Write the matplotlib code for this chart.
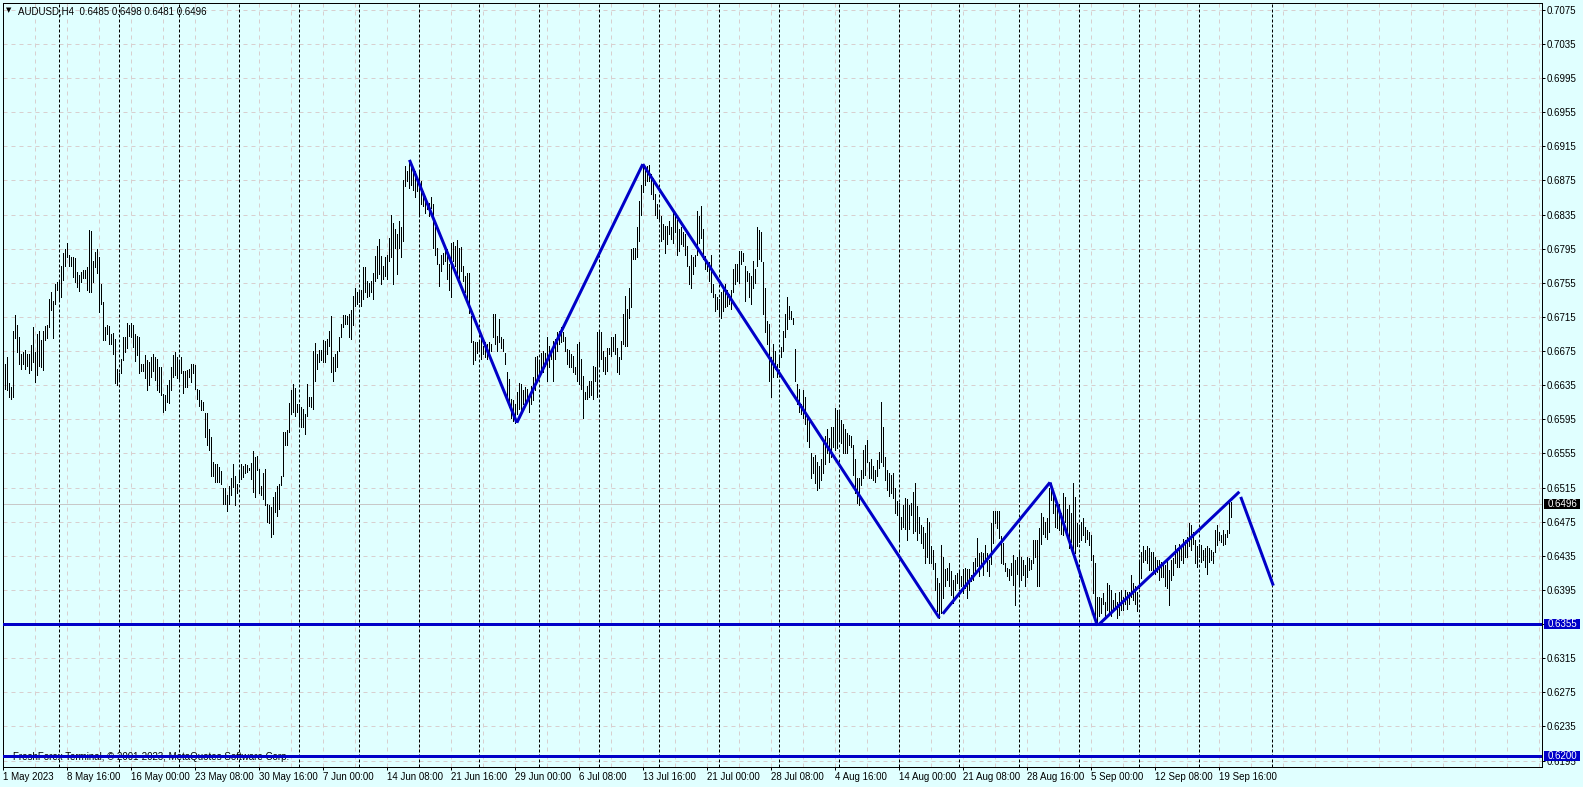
import numpy as np
import matplotlib
matplotlib.use("Agg")
import matplotlib.pyplot as plt
from matplotlib import transforms
from matplotlib.patches import Rectangle

plt.rcParams['font.family'] = ['Liberation Sans', 'DejaVu Sans']

# AUDUSD H4, one bar per 4 hours (values in 1/10000)
highs = [
    6643, 6660, 6668, 6637, 6633, 6698, 6717, 6705, 6692, 6672,
    6674, 6676, 6671, 6671, 6682, 6703, 6674, 6695, 6698, 6688,
    6699, 6704, 6705, 6736, 6744, 6734, 6754, 6756, 6756, 6775,
    6790, 6795, 6802, 6788, 6785, 6785, 6784, 6768, 6764, 6768,
    6770, 6770, 6773, 6817, 6816, 6781, 6791, 6795, 6785, 6754,
    6732, 6703, 6705, 6704, 6695, 6696, 6689, 6654, 6649, 6666,
    6692, 6692, 6708, 6705, 6708, 6705, 6695, 6693, 6691, 6660,
    6660, 6670, 6664, 6662, 6668, 6672, 6668, 6666, 6656, 6656,
    6625, 6623, 6635, 6641, 6656, 6670, 6674, 6668, 6665, 6668,
    6651, 6651, 6653, 6654, 6660, 6660, 6659, 6631, 6629, 6618,
    6615, 6602, 6602, 6584,
    6574, 6545, 6543, 6543, 6539, 6534, 6515, 6515, 6506, 6517,
    6526, 6543, 6529, 6519, 6533, 6543, 6540, 6543, 6541, 6538,
    6544, 6558, 6551, 6552, 6537, 6517, 6532, 6537, 6496, 6494,
    6492, 6504, 6510, 6517, 6519, 6529, 6580, 6580, 6582, 6614,
    6629, 6636, 6632, 6613, 6613, 6609, 6607, 6601, 6636, 6621,
    6621, 6675, 6684, 6671, 6676, 6676, 6688, 6687, 6689, 6699,
    6716, 6668, 6671, 6675, 6691, 6707, 6717, 6717, 6716, 6718,
    6723, 6740, 6749, 6744, 6746, 6746, 6773, 6773, 6757, 6755,
    6757, 6767, 6786, 6798, 6806, 6786, 6775, 6785, 6788, 6807,
    6835, 6825, 6818, 6812, 6827, 6820, 6876, 6892, 6886, 6898,
    6896, 6890, 6886, 6878, 6886, 6874, 6863, 6857, 6851, 6849,
    6855, 6847, 6820, 6796, 6777, 6788, 6790, 6796, 6794, 6777,
    6802, 6803, 6798, 6805, 6796, 6797, 6775, 6763, 6767, 6766,
    6716, 6687, 6685, 6685, 6687, 6689, 6681, 6685, 6683, 6685,
    6683, 6718, 6718, 6693, 6712, 6691, 6689, 6673, 6650, 6642,
    6619, 6617, 6613, 6627, 6638, 6636, 6629, 6633, 6630, 6621,
    6634, 6644, 6668, 6669, 6664, 6673, 6675, 6673, 6691, 6681,
    6677, 6687, 6689, 6697, 6699, 6703, 6697, 6691, 6677, 6676,
    6671, 6669, 6656, 6683, 6685, 6666, 6646, 6627, 6634, 6640,
    6640, 6658, 6656, 6697, 6699, 6697, 6675, 6668, 6679, 6679,
    6691, 6691, 6695, 6679, 6668, 6687, 6718, 6740, 6724, 6749,
    6794, 6796, 6796, 6820, 6851, 6870, 6893, 6890, 6892, 6893,
    6882, 6878, 6859, 6847, 6839, 6833, 6824, 6822, 6822, 6827,
    6820, 6837, 6835, 6829, 6818, 6820, 6814, 6812, 6798, 6775,
    6788, 6785, 6788, 6839, 6833, 6845, 6818, 6786, 6781, 6779,
    6788, 6753, 6742, 6738, 6736, 6744, 6746, 6753, 6746, 6742,
    6746, 6771, 6777, 6777, 6792, 6792, 6790, 6775, 6769, 6767,
    6763, 6781, 6771, 6820, 6817, 6814, 6779, 6749, 6710, 6707,
    6668, 6683, 6675, 6660, 6669, 6680, 6699, 6718, 6738, 6728,
    6722, 6714, 6677, 6636, 6630, 6613, 6629, 6621, 6597, 6593,
    6555, 6551, 6553, 6545, 6540, 6549, 6571, 6575, 6583, 6573,
    6586, 6586, 6608, 6606, 6606, 6594, 6590, 6583, 6579, 6577,
    6575, 6565, 6549, 6526, 6526, 6536, 6559, 6565, 6571, 6545,
    6549, 6540, 6536, 6547, 6557, 6615, 6586, 6551, 6536, 6532,
    6530, 6532, 6514, 6499, 6497, 6481, 6495, 6503, 6501, 6495,
    6497, 6510, 6520, 6493, 6481, 6471, 6469, 6462, 6479, 6475,
    6446, 6442, 6427, 6409, 6403, 6448, 6434, 6419, 6421, 6427,
    6417, 6407, 6413, 6415, 6417, 6411, 6419, 6421, 6419, 6419,
    6413, 6428, 6432, 6456, 6438, 6440, 6438, 6448, 6438, 6430,
    6473, 6487, 6487, 6487, 6487, 6458, 6450, 6427, 6421, 6419,
    6426, 6436, 6430, 6434, 6440, 6434, 6430, 6424, 6434, 6432,
    6430, 6453, 6453, 6453, 6467, 6485, 6481, 6475, 6479, 6514,
    6520, 6508, 6496, 6490, 6496, 6485, 6508, 6504, 6490, 6494,
    6485, 6520, 6504, 6473, 6469, 6475, 6479, 6469, 6465, 6463,
    6459, 6436, 6426, 6387, 6387, 6385, 6391, 6381, 6403, 6401,
    6395, 6383, 6391, 6381, 6393, 6395, 6387, 6395, 6393, 6393,
    6412, 6403, 6399, 6393, 6430, 6440, 6446, 6442, 6446, 6444,
    6440, 6440, 6434, 6430, 6430, 6428, 6426, 6424, 6430, 6418,
    6430, 6432, 6448, 6444, 6449, 6446, 6455, 6453, 6457, 6473,
    6471, 6463, 6453, 6446, 6449, 6448, 6442, 6444, 6446, 6444,
    6442, 6440, 6465, 6471, 6463, 6459, 6465, 6461, 6465, 6497,
    6498,
]
lows = [
    6632, 6631, 6629, 6621, 6619, 6621, 6690, 6674, 6660, 6654,
    6660, 6654, 6658, 6649, 6653, 6662, 6639, 6647, 6657, 6656,
    6653, 6688, 6690, 6703, 6723, 6690, 6730, 6746, 6736, 6738,
    6758, 6775, 6785, 6775, 6775, 6762, 6756, 6750, 6745, 6756,
    6760, 6760, 6747, 6744, 6744, 6756, 6773, 6766, 6721, 6730,
    6688, 6688, 6695, 6683, 6683, 6672, 6638, 6635, 6641, 6649,
    6664, 6674, 6678, 6693, 6691, 6680, 6663, 6670, 6649, 6651,
    6651, 6643, 6629, 6635, 6645, 6652, 6641, 6629, 6627, 6623,
    6604, 6606, 6615, 6614, 6629, 6645, 6647, 6643, 6641, 6649,
    6626, 6633, 6633, 6645, 6639, 6649, 6631, 6619, 6610, 6606,
    6606, 6574, 6565, 6559,
    6529, 6528, 6521, 6521, 6521, 6519, 6496, 6496, 6488, 6496,
    6506, 6516, 6494, 6508, 6521, 6525, 6527, 6532, 6533, 6536,
    6525, 6510, 6504, 6535, 6508, 6506, 6502, 6495, 6474, 6473,
    6457, 6461, 6486, 6482, 6490, 6518, 6529, 6565, 6565, 6580,
    6601, 6603, 6599, 6603, 6588, 6586, 6586, 6578, 6599, 6611,
    6609, 6607, 6640, 6654, 6662, 6664, 6662, 6662, 6671, 6681,
    6650, 6640, 6652, 6656, 6675, 6691, 6703, 6707, 6707, 6691,
    6689, 6705, 6728, 6730, 6732, 6728, 6736, 6744, 6738, 6740,
    6744, 6736, 6757, 6761, 6765, 6753, 6759, 6763, 6759, 6781,
    6785, 6753, 6796, 6765, 6796, 6785, 6804, 6868, 6874, 6866,
    6870, 6864, 6855, 6863, 6833, 6847, 6845, 6837, 6841, 6833,
    6843, 6796, 6788, 6777, 6751, 6769, 6777, 6781, 6759, 6746,
    6738, 6781, 6775, 6765, 6761, 6769, 6757, 6744, 6732, 6720,
    6685, 6660, 6664, 6673, 6675, 6666, 6671, 6668, 6666, 6671,
    6675, 6691, 6683, 6675, 6685, 6679, 6675, 6660, 6621, 6609,
    6597, 6593, 6591, 6601, 6607, 6605, 6613, 6613, 6617, 6603,
    6613, 6617, 6629, 6640, 6644, 6652, 6650, 6658, 6640, 6656,
    6666, 6640, 6666, 6675, 6683, 6685, 6687, 6675, 6660, 6656,
    6656, 6650, 6648, 6640, 6636, 6630, 6597, 6619, 6619, 6621,
    6623, 6619, 6640, 6621, 6660, 6666, 6652, 6648, 6652, 6671,
    6669, 6675, 6671, 6650, 6648, 6666, 6683, 6681, 6681, 6714,
    6726, 6783, 6783, 6785, 6804, 6835, 6861, 6870, 6874, 6874,
    6859, 6853, 6835, 6831, 6827, 6804, 6806, 6790, 6800, 6812,
    6806, 6802, 6814, 6788, 6792, 6800, 6798, 6788, 6775, 6753,
    6749, 6765, 6775, 6788, 6802, 6808, 6783, 6771, 6769, 6757,
    6744, 6738, 6722, 6724, 6718, 6714, 6722, 6726, 6728, 6730,
    6724, 6744, 6753, 6757, 6755, 6777, 6781, 6734, 6757, 6738,
    6730, 6749, 6755, 6775, 6783, 6781, 6718, 6697, 6683, 6640,
    6621, 6644, 6654, 6644, 6656, 6668, 6675, 6691, 6701, 6712,
    6712, 6707, 6640, 6613, 6603, 6601, 6597, 6590, 6570, 6562,
    6526, 6532, 6520, 6512, 6514, 6524, 6532, 6542, 6555, 6545,
    6551, 6563, 6559, 6561, 6571, 6567, 6555, 6555, 6555, 6565,
    6563, 6530, 6508, 6497, 6495, 6518, 6526, 6530, 6545, 6526,
    6526, 6524, 6522, 6528, 6538, 6545, 6540, 6524, 6512, 6505,
    6508, 6503, 6485, 6483, 6454, 6466, 6469, 6466, 6454, 6466,
    6483, 6462, 6464, 6454, 6462, 6450, 6444, 6427, 6434, 6427,
    6427, 6419, 6395, 6370, 6362, 6368, 6386, 6399, 6407, 6399,
    6389, 6380, 6395, 6403, 6397, 6399, 6391, 6397, 6386, 6395,
    6405, 6407, 6417, 6423, 6411, 6423, 6413, 6428, 6417, 6411,
    6425, 6450, 6473, 6467, 6456, 6427, 6425, 6417, 6411, 6407,
    6412, 6401, 6377, 6414, 6399, 6407, 6412, 6399, 6410, 6418,
    6420, 6426, 6434, 6399, 6399, 6449, 6461, 6457, 6455, 6463,
    6500, 6485, 6469, 6467, 6465, 6461, 6459, 6475, 6461, 6444,
    6451, 6442, 6438, 6446, 6451, 6453, 6459, 6451, 6455, 6448,
    6430, 6391, 6360, 6354, 6364, 6368, 6379, 6364, 6371, 6366,
    6364, 6371, 6375, 6362, 6366, 6371, 6371, 6379, 6373, 6379,
    6387, 6383, 6379, 6370, 6397, 6409, 6428, 6430, 6426, 6418,
    6418, 6414, 6414, 6416, 6407, 6410, 6410, 6399, 6397, 6377,
    6407, 6412, 6426, 6422, 6422, 6430, 6426, 6434, 6434, 6446,
    6442, 6449, 6426, 6422, 6434, 6428, 6430, 6422, 6414, 6428,
    6430, 6426, 6440, 6448, 6453, 6451, 6448, 6449, 6457, 6462,
    6481,
]

# trend lines: (bar0, price0, bar1, price1)
trend_lines = [
    (204.3, 0.6899, 258.0, 0.6591),
    (258.0, 0.6591, 321.0, 0.6894),
    (321.0, 0.6894, 469.3, 0.6362),
    (471.0, 0.6367, 524.6, 0.6521),
    (524.6, 0.6521, 548.3, 0.6353),
    (549.3, 0.6355, 619.3, 0.6510),
    (620.0, 0.6504, 636.3, 0.6400),
]
hlines = [0.6355, 0.6200]
bid = 0.6496

price_ticks = [0.7075, 0.7035, 0.6995, 0.6955, 0.6915, 0.6875, 0.6835, 0.6795,
               0.6755, 0.6715, 0.6675, 0.6635, 0.6595, 0.6555, 0.6515, 0.6475,
               0.6435, 0.6395, 0.6355, 0.6315, 0.6275, 0.6235, 0.6195]
time_labels = ["1 May 2023", "8 May 16:00", "16 May 00:00", "23 May 08:00",
               "30 May 16:00", "7 Jun 00:00", "14 Jun 08:00", "21 Jun 16:00",
               "29 Jun 00:00", "6 Jul 08:00", "13 Jul 16:00", "21 Jul 00:00",
               "28 Jul 08:00", "4 Aug 16:00", "14 Aug 00:00", "21 Aug 08:00",
               "28 Aug 16:00", "5 Sep 00:00", "12 Sep 08:00", "19 Sep 16:00"]
time_ticks = [1 + 32 * k for k in range(len(time_labels))]
week_starts = [29.3 + 30 * k for k in range(20)] + [635.5]
grid_x = [1 + 16 * k for k in range(1, 49)]

BG = '#e0ffff'
BLUE = '#0000c8'
GRID = '#d8cfcf'
PX = 0.72  # one pixel in points at 100 dpi

W, H = 1583, 787
fig = plt.figure(figsize=(W / 100, H / 100), dpi=100, facecolor=BG)
left, right, top, bottom = 2.7, 1542, 3, 766.5
ax = fig.add_axes([left / W, 1 - bottom / H, (right - left) / W, (bottom - top) / H])
ax.set_facecolor(BG)
ax.set_xlim(0.9, 770.65)
ax.set_ylim(0.61880, 0.70829)

# grid
for p in price_ticks:
    ax.axhline(p, color=GRID, lw=PX, ls=(0, (4, 4)), zorder=1)
for g in grid_x:
    ax.axvline(g, color=GRID, lw=PX, ls=(0, (4, 4)), zorder=1)
# week separators
for w in week_starts:
    ax.axvline(w, color='black', lw=PX, ls=(0, (3, 2)), zorder=2)

# bid line
ax.axhline(bid, color='#c8c8c8', lw=PX, zorder=2)

# bars
xs = np.arange(1, len(highs) + 1)
ax.vlines(xs, np.array(lows) / 10000, np.array(highs) / 10000,
          colors='black', linewidth=PX, antialiased=False, zorder=3)

# watermark
ax.text(12.7 / W, 1 - 756.5 / H, "FreshForex Terminal, \u00a9 2001-2023, MetaQuotes Software Corp.",
        transform=fig.transFigure, fontsize=7, color='black', va='center', ha='left', zorder=3)

# horizontal levels and trend lines
for h in hlines:
    ax.axhline(h, color=BLUE, lw=3 * PX, zorder=5)
for x0, p0, x1, p1 in trend_lines:
    ax.plot([x0, x1], [p0, p1], color=BLUE, lw=3 * PX, solid_capstyle='butt', zorder=5)

# axes frame and ticks
for s in ax.spines.values():
    s.set_color('black')
    s.set_linewidth(PX)
ax.yaxis.tick_right()
ax.set_yticks(price_ticks)
ax.set_yticklabels([f"{p:.4f}" for p in price_ticks])
ax.set_xticks(time_ticks)
ax.set_xticklabels(time_labels)
for lab in ax.get_xticklabels():
    lab.set_ha('left')
ax.tick_params(axis='y', right=True, left=False, length=3 * PX, width=PX, pad=1.5,
               labelsize=7, colors='black')
ax.tick_params(axis='x', length=3 * PX, width=PX, pad=1.5, labelsize=7, colors='black')

# price boxes on the right scale
blend = transforms.blended_transform_factory(fig.transFigure, ax.transData)
box_h = 10 / 8531
for p, col in [(bid, 'black'), (hlines[0], BLUE), (hlines[1], BLUE)]:
    ax.add_patch(Rectangle((1544 / W, p - box_h / 2), 36 / W, box_h, transform=blend,
                           facecolor=col, edgecolor='none', clip_on=False, zorder=10))
    ax.text(1547.5 / W, p, f"{p:.4f}", transform=blend, color='white', fontsize=7,
            ha='left', va='center', zorder=11, clip_on=False)

# header
ax.text(8.3 / W, 1 - 10 / H, "\u25bc", transform=fig.transFigure, fontsize=5,
        family=['DejaVu Sans'], ha='center', va='center', zorder=12)
ax.text(18.3 / W, 1 - 11 / H, "AUDUSD,H4  0.6485 0.6498 0.6481 0.6496",
        transform=fig.transFigure, fontsize=7, ha='left', va='center', zorder=12)

fig.savefig("out.png", dpi=100, facecolor=BG)
